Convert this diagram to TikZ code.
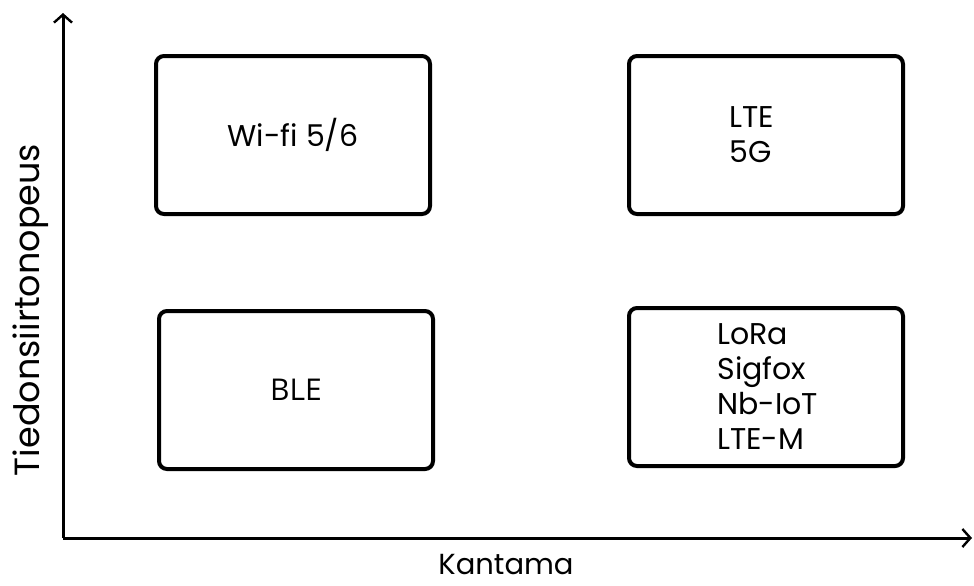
\documentclass[tikz,border=0pt]{standalone}
\usepackage{fontspec}
\setmainfont{Poppins}
\newfontfamily\blefont{Open Sans}
\usepackage{tikz}
\usetikzlibrary{arrows.meta,calc,positioning}

\begin{document}
\begin{tikzpicture}[x=0.5pt,y=-0.5pt,
    techbox/.style={draw=black,line width=2pt,rounded corners=4pt,
      minimum width=137pt,minimum height=79pt,inner sep=0pt},
    techtext/.style={font=\fontsize{15}{17.5}\selectfont,inner sep=0pt,align=left},
    axisline/.style={line width=1.5pt,-{Straight Barb[length=4pt,width=9pt,line width=1.2pt]}}]
          % picture size
          \useasboundingbox (0,0) rectangle (974,585);
          % axes
          \coordinate (origin) at (63,538);
          \coordinate (ytip) at (63,13);
          \coordinate (xtip) at (972,538);
          \draw[axisline] (origin) -- (ytip);
          \draw[axisline] (origin) -- (xtip);
          \node[font=\fontsize{14.5}{14.5}\selectfont,inner sep=0pt,anchor=base] (xlabel) at (506,574) {Kantama};
          \node[font=\fontsize{17.5}{17.5}\selectfont,rotate=90] (ylabel) at (31,310) {Tiedonsiirtonopeus};
          % boxes
          \node[techbox] (wifi) at (293,135) {};
          \node[techbox] (lte) at (766,135) {};
          \node[techbox] (ble) at (296,390) {};
          \node[techbox] (lora) at (766,387) {};
          % texts
          \node[techtext] (wifitext) at (wifi) {Wi-fi 5/6};
          \node[techtext,anchor=west] (ltetext) at ($(lte.west)+(102,0)$) {LTE\\5G};
          \node[techtext,font=\blefont\fontsize{15}{15}\selectfont] (bletext) at (ble) {BLE};
          \node[techtext,anchor=west] (loratext) at ($(lora.west)+(90,0)$) {LoRa\\Sigfox\\Nb-IoT\\LTE-M};
        \end{tikzpicture}
\end{document}
